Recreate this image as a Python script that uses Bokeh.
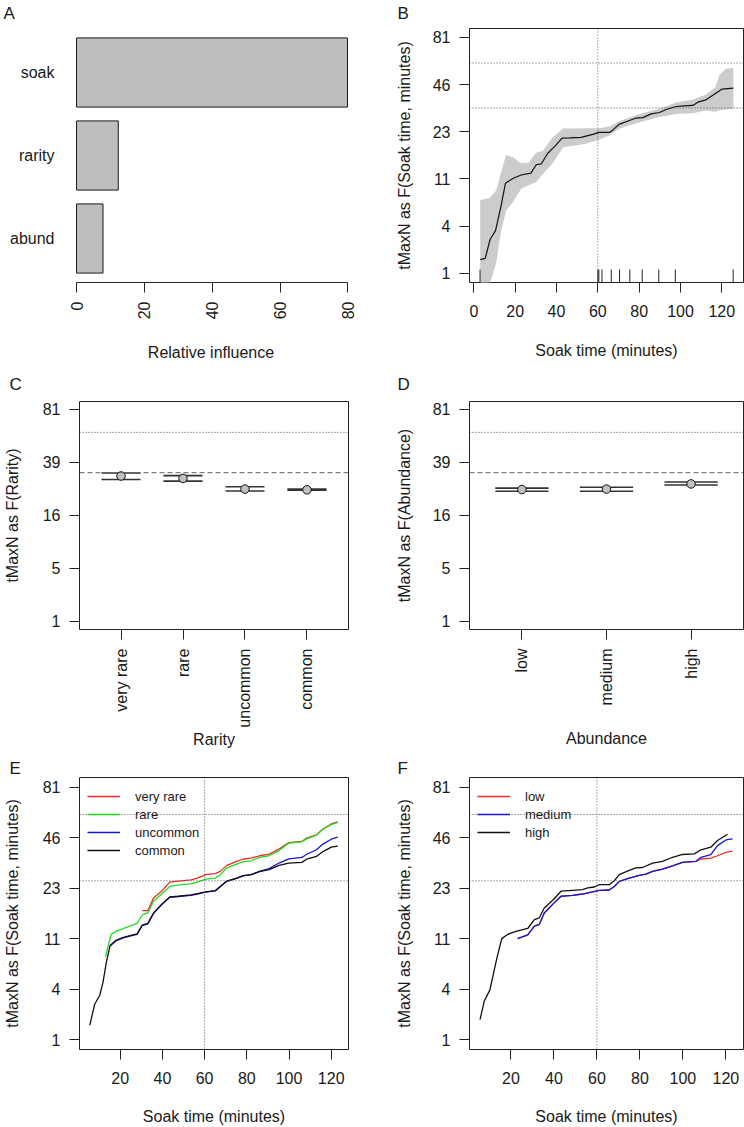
import math
import numpy as np
from bokeh.plotting import figure
from bokeh.models import Span, FixedTicker, Legend, LegendItem, Range1d
from bokeh.layouts import column, row
from bokeh.embed import file_html
from bokeh.resources import INLINE

FONT = "Liberation Sans"
TXT = "#1a1a1a"

# ---------------- data ----------------
# Panel A: relative influence
infl_vars = ["soak", "rarity", "abund"]
infl_vals = [79.9, 12.3, 7.8]

# y-axis (fourth-root scale) tick labels
soak_ytick_labels = ["1", "4", "11", "23", "46", "81"]
cat_ytick_labels = ["1", "5", "16", "39", "81"]

# Panel B: partial dependence on soak time
b_x = [3.1, 5.5, 7.9, 10.5, 13.2, 15.3, 18.9, 22.9, 27.6, 30.2, 32.6, 35.8, 39.5, 42.7, 46.3, 51.9, 57.6, 60.5,
       65.6, 67.6, 70.2, 75.3, 78.5, 81.8, 85.8, 89.8, 93.1, 97.9, 101.9, 106.0, 108.4, 112.4, 116.0, 120.2, 125.6]
b_y = [1.55, 1.61, 2.76, 3.44, 6.14, 9.68, 10.6, 11.3, 11.7, 13.6, 13.8, 16.6, 18.8, 21.2, 21.3, 21.5, 22.5, 23.2,
       23.2, 24.3, 26.2, 27.8, 28.8, 29.0, 30.6, 31.2, 32.6, 34.0, 34.3, 34.5, 36.1, 37.3, 39.9, 43.1, 43.6]
band_x = [3.1, 7.6, 10.8, 13.2, 15.6, 18.9, 22.9, 26.5, 30.2, 33.4, 38.2, 43.2, 47.9, 54.4, 60.5, 65.6, 70.3,
          80.2, 89.8, 97.9, 106.0, 112.4, 116.8, 119.0, 122.1, 125.6]
band_hi = [6.9, 7.2, 8.4, 11.9, 16.1, 15.5, 14.0, 14.1, 16.8, 17.2, 21.5, 24.6, 24.6, 24.7, 24.7, 25.4, 27.5,
           30.6, 32.9, 35.9, 37.5, 40.1, 44.2, 52.1, 55.9, 56.4]
band_lo = [0.5, 0.65, 1.4, 3.44, 5.5, 6.6, 8.7, 9.3, 9.9, 11.5, 14.0, 18.3, 18.8, 19.4, 20.7, 22.1, 24.5,
           27.1, 29.2, 30.6, 30.9, 32.1, 31.6, 32.2, 32.6, 32.9]
rug_x = [3.0, 60.0, 60.5, 62.0, 66.5, 70.5, 75.5, 81.5, 89.5, 97.5, 125.5]

# reference levels
ref_soak = 60
ref_hi = 60
ref_mid = 33.3
ref_mid_e = 26

# Panel C: rarity
rarity_cats = ["very rare", "rare", "uncommon", "common"]
rarity_mid = [31.6, 30.4, 25.5, 25.2]
rarity_lo = [29.9, 29.1, 24.7, 25.0]
rarity_hi = [33.1, 31.8, 26.5, 25.5]

# Panel D: abundance
abund_cats = ["low", "medium", "high"]
abund_mid = [25.3, 25.5, 27.8]
abund_lo = [24.6, 24.6, 27.3]
abund_hi = [25.9, 26.3, 28.7]

# Panel E: by rarity
e_vr_x = [30.4, 33.1, 35.8, 39.6, 43.5, 48.9, 53.5, 56.6, 60.5, 65.1, 67.4, 70.5, 75.2, 78.3, 82.1, 86.0, 90.6,
          95.3, 99.9, 106.1, 108.4, 113.0, 116.1, 120.0, 123.1]
e_vr_y = [16.7, 16.7, 20.3, 22.4, 25.5, 26.0, 26.3, 27.0, 28.3, 28.7, 29.6, 32.1, 33.8, 34.9, 35.3, 36.4, 37.2,
          39.6, 43.0, 43.6, 45.4, 47.3, 50.7, 53.8, 55.1]
e_r_x = [13.0, 15.7, 18.0, 22.6, 28.0, 30.4, 33.1, 35.8, 39.6, 43.5, 48.9, 53.5, 56.6, 60.5, 65.1, 67.4, 70.5,
         75.2, 78.3, 82.1, 86.0, 90.6, 95.3, 99.9, 106.1, 108.4, 113.0, 116.1, 120.0, 123.1]
e_r_y = [7.5, 11.3, 11.9, 12.7, 13.6, 15.6, 16.1, 19.3, 21.5, 24.0, 24.6, 24.9, 25.5, 26.6, 27.0, 28.3, 31.0,
         32.6, 33.7, 34.1, 35.6, 36.4, 38.9, 42.7, 43.4, 45.0, 47.1, 50.5, 53.4, 54.8]
e_u_x = [15.2, 18.0, 21.1, 25.0, 28.0, 30.4, 33.1, 35.8, 39.6, 43.5, 47.4, 53.5, 56.6, 60.5, 65.1, 67.4, 70.5,
         75.2, 78.3, 82.1, 86.0, 90.6, 95.3, 99.9, 106.1, 108.4, 113.0, 116.1, 120.0, 123.1]
e_u_y = [9.2, 10.1, 10.6, 11.0, 11.3, 13.1, 13.5, 16.0, 18.3, 20.5, 20.7, 21.1, 21.5, 22.1, 22.5, 23.9, 25.8,
         26.9, 27.8, 28.3, 29.6, 30.7, 33.1, 35.0, 35.6, 37.1, 39.3, 42.2, 44.8, 45.9]
e_c_x = [5.6, 7.9, 10.3, 11.8, 13.4, 15.2, 18.0, 21.1, 25.0, 28.0, 30.4, 33.1, 35.8, 39.6, 43.5, 47.4, 53.5,
         56.6, 60.5, 65.1, 67.4, 70.5, 75.2, 78.3, 82.1, 86.0, 90.6, 95.3, 99.9, 106.1, 108.4, 113.0, 116.1,
         120.0, 123.1]
e_c_y = [1.55, 2.69, 3.34, 4.44, 6.72, 9.29, 10.2, 10.7, 11.1, 11.4, 13.2, 13.6, 16.1, 18.4, 20.6, 20.8, 21.2,
         21.6, 22.2, 22.6, 24.0, 25.9, 27.0, 27.9, 28.3, 29.5, 30.3, 32.1, 33.1, 33.4, 34.9, 36.1, 38.4,
         40.6, 41.1]

# Panel F: by abundance
f_low_x = [23.1, 27.8, 30.9, 33.2, 35.5, 39.4, 43.3, 48.7, 53.3, 58.0, 61.1, 65.7, 68.1, 70.4, 75.0, 79.7,
           82.8, 85.9, 90.5, 95.2, 99.8, 106.0, 108.4, 113.0, 116.1, 120.0, 123.1]
f_low_y = [10.5, 11.2, 13.0, 13.4, 16.1, 18.4, 20.8, 21.1, 21.5, 22.2, 22.7, 22.8, 24.0, 25.8, 27.0, 28.0,
           28.5, 29.6, 30.5, 31.9, 33.4, 33.8, 34.9, 35.3, 36.4, 38.0, 38.6]
f_med_x = [23.1, 27.8, 30.9, 33.2, 35.5, 39.4, 43.3, 48.7, 53.3, 58.0, 61.1, 65.7, 68.1, 70.4, 75.0, 79.7,
           82.8, 85.9, 90.5, 95.2, 99.8, 106.0, 108.4, 113.0, 116.1, 120.0, 123.1]
f_med_y = [10.5, 11.2, 13.0, 13.4, 16.1, 18.4, 20.8, 21.1, 21.5, 22.2, 22.7, 22.8, 24.0, 25.8, 27.0, 28.0,
           28.5, 29.6, 30.5, 31.9, 33.4, 33.8, 35.7, 36.9, 41.4, 44.4, 45.0]
f_high_x = [5.6, 7.6, 10.2, 13.3, 15.7, 18.4, 22.3, 27.8, 30.9, 33.2, 35.5, 39.4, 43.3, 48.7, 53.3, 55.7,
            58.8, 61.1, 65.7, 68.1, 70.4, 75.0, 78.1, 81.2, 85.9, 90.5, 95.2, 99.8, 105.3, 108.4, 113.0,
            116.1, 120.8]
f_high_y = [1.80, 2.92, 3.78, 7.16, 10.5, 11.3, 11.9, 12.5, 14.5, 14.9, 17.4, 19.6, 22.4, 22.7, 22.9, 23.5,
            23.8, 24.6, 24.6, 26.0, 28.3, 30.0, 31.0, 31.2, 33.1, 33.8, 35.7, 37.0, 37.3, 39.3, 40.6,
            44.1, 47.6]

# ---------------- helpers ----------------
def q(v):
    """fourth-root transform used by the y axes"""
    return (np.asarray(v, dtype=float)) ** 0.25


SOAK_YT = [1.0, 1.4, 1.8, 2.2, 2.6, 3.0]
CAT_YT = [1.0, 1.5, 2.0, 2.5, 3.0]


def style_axis(ax, standoff_title, label_standoff=9):
    ax.axis_line_color = None
    ax.major_tick_out = 10
    ax.major_tick_in = 0
    ax.major_tick_line_color = "#222222"
    ax.minor_tick_line_color = None
    ax.major_label_text_font = FONT
    ax.major_label_text_font_size = "16px"
    ax.major_label_text_color = TXT
    ax.major_label_standoff = label_standoff
    ax.axis_label_text_font = FONT
    ax.axis_label_text_font_size = "16px"
    ax.axis_label_text_font_style = "normal"
    ax.axis_label_text_color = TXT
    ax.axis_label_standoff = standoff_title


def make_fig(w, h, left, right, top, bottom, xr, yr, xs, ys, xls=9):
    p = figure(width=w, height=h, x_range=Range1d(*xr), y_range=Range1d(*yr),
               output_backend="svg", toolbar_location=None,
               min_border_left=left, min_border_right=right,
               min_border_top=top, min_border_bottom=bottom)
    p.xgrid.visible = False
    p.ygrid.visible = False
    p.outline_line_color = "#222222"
    p.outline_line_width = 1
    p.background_fill_color = "white"
    p.border_fill_color = "white"
    style_axis(p.xaxis[0], xs, xls)
    style_axis(p.yaxis[0], ys)
    return p


def letter(p, txt, offset, standoff, valign="top"):
    p.title.text = txt
    p.title.align = "left"
    p.title.offset = offset
    p.title.text_font = FONT
    p.title.text_font_size = "17px"
    p.title.text_font_style = "normal"
    p.title.text_color = TXT
    p.title.vertical_align = valign
    p.title.standoff = standoff


def soak_yaxis(p, title):
    p.yaxis[0].ticker = FixedTicker(ticks=SOAK_YT)
    p.yaxis[0].major_label_overrides = {t: l for t, l in zip(SOAK_YT, soak_ytick_labels)}
    p.yaxis[0].axis_label = title


def cat_yaxis(p, title):
    p.yaxis[0].ticker = FixedTicker(ticks=CAT_YT)
    p.yaxis[0].major_label_overrides = {t: l for t, l in zip(CAT_YT, cat_ytick_labels)}
    p.yaxis[0].axis_label = title


def dotted(p, loc, dim):
    p.add_layout(Span(location=loc, dimension=dim, line_color="#555555",
                      line_width=1, line_dash="1 2"))


LW, RW = 372, 372
H1, H2, H3 = 366, 384, 377
L_LEFT, L_RIGHT = 73, 24
R_LEFT, R_RIGHT = 97, 1
YLIM = (0.922, 3.076)
L_YS, R_YS = 19, 17

# ---------------- Panel A ----------------
pA = make_fig(LW, H1, L_LEFT, L_RIGHT, 28, 84, (-0.9, 80.2), (0.47, 3.53), 22, L_YS)
pA.outline_line_color = None
a_pos = list(range(len(infl_vars), 0, -1))
pA.hbar(y=a_pos, left=0, right=infl_vals, height=1 / 1.2,
        fill_color="#bebebe", line_color="#1a1a1a", line_width=1)
pA.yaxis[0].ticker = FixedTicker(ticks=a_pos)
pA.yaxis[0].major_label_overrides = {p_: n for p_, n in zip(a_pos, infl_vars)}
pA.yaxis[0].major_tick_out = 0
pA.yaxis[0].major_tick_line_color = None
pA.yaxis[0].major_label_standoff = 19
pA.xaxis[0].ticker = FixedTicker(ticks=[0, 20, 40, 60, 80])
pA.xaxis[0].bounds = (0, 80)
pA.xaxis[0].axis_line_color = "#222222"
pA.xaxis[0].major_label_orientation = math.pi / 2
pA.xaxis[0].axis_label = "Relative influence"
letter(pA, "A", -70, 7)

# ---------------- Panel B ----------------
pB = make_fig(RW, H1, R_LEFT, R_RIGHT, 28, 84, (-2.1, 130.5), YLIM, 22, R_YS, 12)
pB.varea(x=band_x, y1=q(band_lo), y2=q(band_hi), fill_color="#cccccc")
dotted(pB, ref_soak, "height")
dotted(pB, ref_hi ** 0.25, "width")
dotted(pB, ref_mid ** 0.25, "width")
pB.line(b_x, q(b_y), line_color="#111111", line_width=1.2)
pB.scatter(x=rug_x, y=[YLIM[0]] * len(rug_x), marker="dash", angle=math.pi / 2, size=26,
           line_color="#222222", line_width=1)
pB.xaxis[0].ticker = FixedTicker(ticks=[0, 20, 40, 60, 80, 100, 120])
pB.xaxis[0].axis_label = "Soak time (minutes)"
soak_yaxis(pB, "tMaxN as F(Soak time, minutes)")
letter(pB, "B", -72, 7)


# ---------------- Panels C, D ----------------
def cat_panel(w, left, right, cats, mid, lo, hi, xr, title, ytitle, lab, off, xs, ys):
    p = make_fig(w, H2, left, right, 35, 117, xr, (0.92, 3.075), xs, ys)
    pos = list(range(1, len(cats) + 1))
    dotted(p, ref_hi ** 0.25, "width")
    p.add_layout(Span(location=ref_mid ** 0.25, dimension="width", line_color="#666666",
                      line_width=1, line_dash="5 3"))
    hw = 0.315
    x0 = [c - hw for c in pos]
    x1 = [c + hw for c in pos]
    p.segment(x0=x0, x1=x1, y0=q(hi), y1=q(hi), line_color="#333333", line_width=1.6)
    p.segment(x0=x0, x1=x1, y0=q(lo), y1=q(lo), line_color="#333333", line_width=1.6)
    p.scatter(x=pos, y=q(mid), size=8.5, fill_color="#c0c0c0", line_color="#111111", line_width=1)
    p.xaxis[0].ticker = FixedTicker(ticks=pos)
    p.xaxis[0].major_label_overrides = {c: n for c, n in zip(pos, cats)}
    p.xaxis[0].major_label_orientation = math.pi / 2
    p.xaxis[0].axis_label = title
    cat_yaxis(p, ytitle)
    letter(p, lab, off, 11)
    return p


pC = cat_panel(LW, L_LEFT, L_RIGHT, rarity_cats, rarity_mid, rarity_lo, rarity_hi, (0.33, 4.67),
               "Rarity", "tMaxN as F(Rarity)", "C", -70, 0, L_YS)
pD = cat_panel(RW, R_LEFT, R_RIGHT, abund_cats, abund_mid, abund_lo, abund_hi, (0.38, 3.62),
               "Abundance", "tMaxN as F(Abundance)", "D", -72, 22, R_YS)


# ---------------- Panels E, F ----------------
def series_panel(w, left, right, series, lab, off, nrows, ys):
    top, bottom = 27, 76
    p = make_fig(w, H3, left, right, top, bottom, (0.7, 128.2), YLIM, 21, ys, 12)
    dotted(p, ref_soak, "height")
    dotted(p, ref_hi ** 0.25, "width")
    dotted(p, ref_mid_e ** 0.25, "width")
    items = []
    for name, xs_, ys_, col in series:
        r = p.line(xs_, q(ys_), line_color=col, line_width=1.3)
        items.append(LegendItem(label=name, renderers=[r]))
    frame_h = H3 - top - bottom
    leg_h = 2 * 9 + nrows * 18
    leg = Legend(items=items, location=(8, frame_h - leg_h + 6), padding=9, spacing=0, margin=0,
                 glyph_width=33, glyph_height=18, label_height=18, label_standoff=15,
                 border_line_color=None, background_fill_alpha=0,
                 label_text_font=FONT, label_text_font_size="13px", label_text_color=TXT)
    p.add_layout(leg)
    p.xaxis[0].ticker = FixedTicker(ticks=[20, 40, 60, 80, 100, 120])
    p.xaxis[0].axis_label = "Soak time (minutes)"
    soak_yaxis(p, "tMaxN as F(Soak time, minutes)")
    letter(p, lab, off, 0, "bottom")
    return p


pE = series_panel(LW, L_LEFT, L_RIGHT, [
    ("very rare", e_vr_x, e_vr_y, "#ee2a2a"),
    ("rare", e_r_x, e_r_y, "#22dd22"),
    ("uncommon", e_u_x, e_u_y, "#1515dd"),
    ("common", e_c_x, e_c_y, "#111111"),
], "E", -70, 4, L_YS)

pF = series_panel(RW, R_LEFT, R_RIGHT, [
    ("low", f_low_x, f_low_y, "#ee2a2a"),
    ("medium", f_med_x, f_med_y, "#1515dd"),
    ("high", f_high_x, f_high_y, "#111111"),
], "F", -72, 3, R_YS)

layout = column(row(pA, pB), row(pC, pD), row(pE, pF))
open("out.html", "w").write(file_html(layout, INLINE))
